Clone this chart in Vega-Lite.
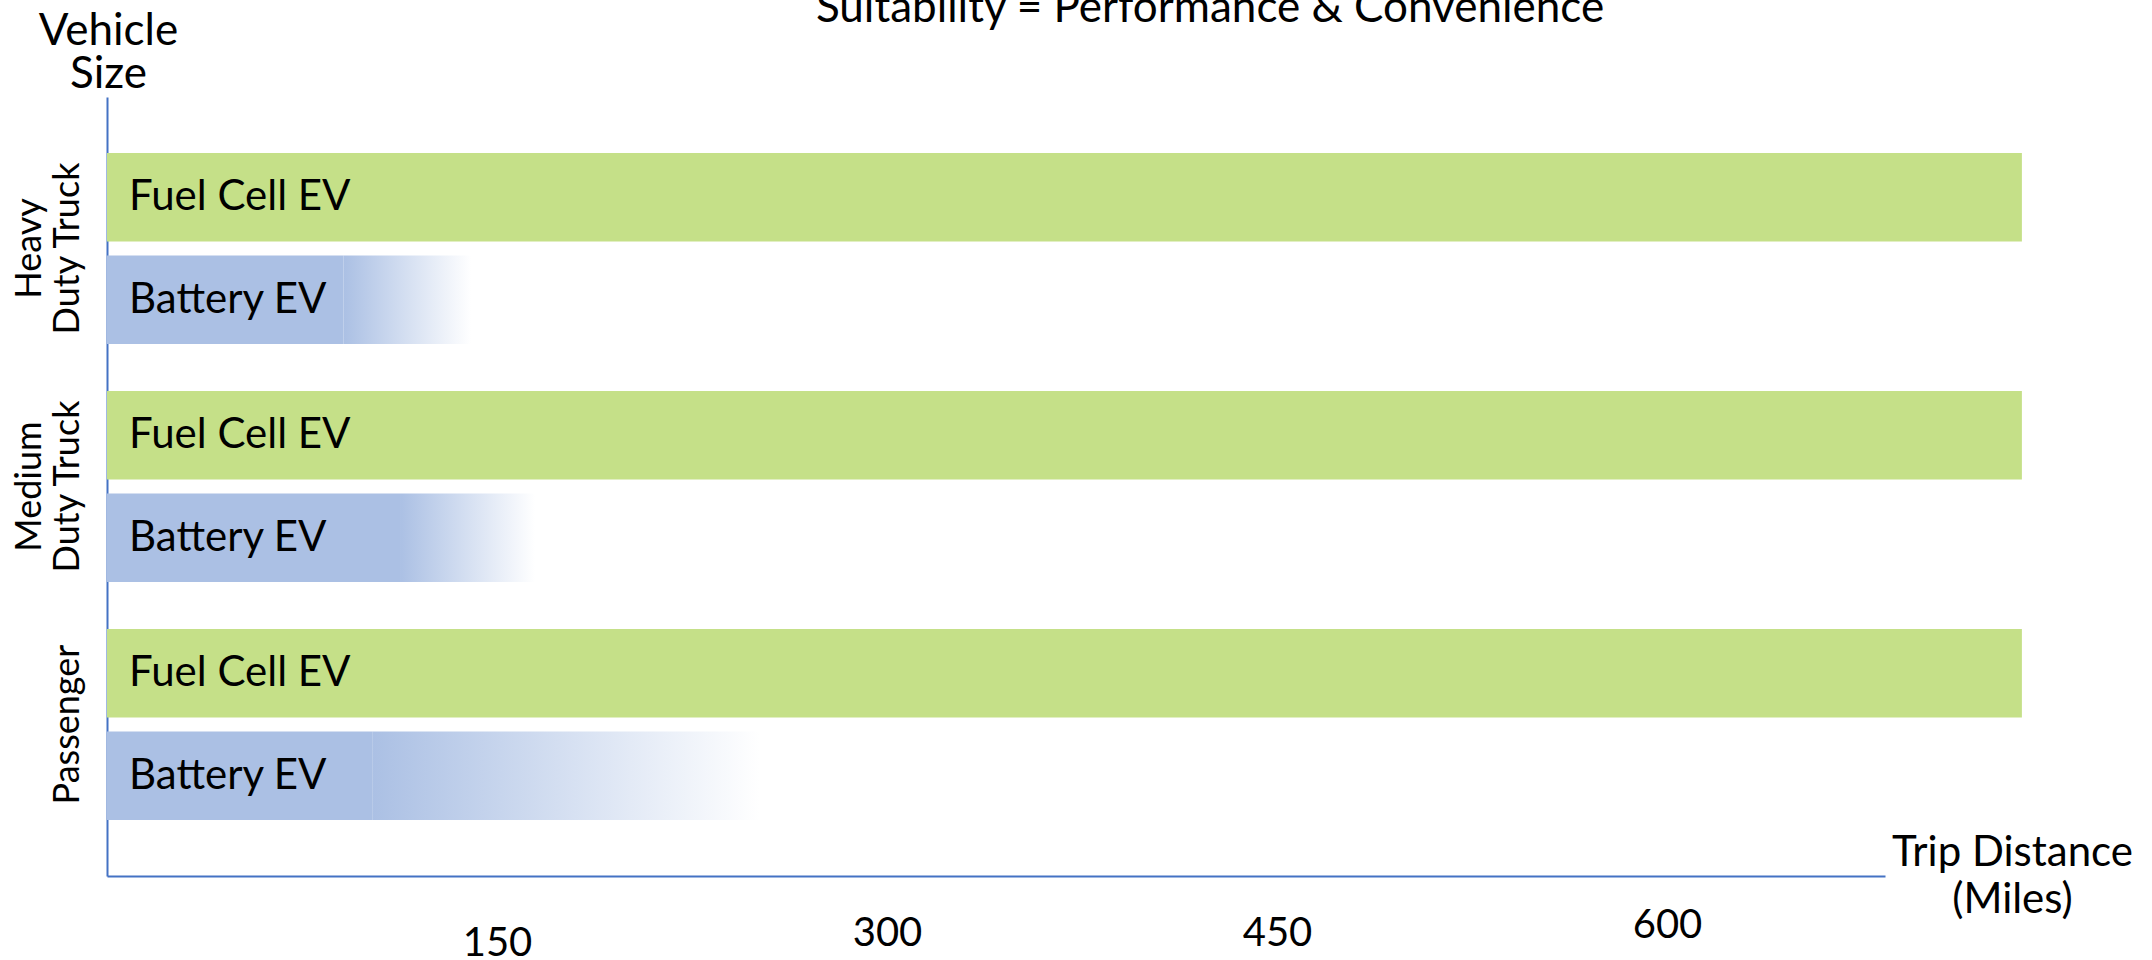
{
  "$schema": "https://vega.github.io/schema/vega-lite/v6.json",
  "autosize": "none",
  "width": 1778,
  "height": 779,
  "padding": {"left": 107, "top": 97, "right": 267, "bottom": 84},
  "background": "white",
  "config": {"view": {"stroke": null}, "font": "Lato"},
  "title": {
    "text": "Suitability = Performance & Convenience",
    "font": "Lato",
    "fontSize": 44,
    "fontWeight": "normal",
    "color": "black",
    "anchor": "middle",
    "frame": "group",
    "baseline": "alphabetic",
    "offset": 0,
    "dy": 57,
    "dx": 214
  },
  "data": {
    "values": [
      {"vehicle": "Heavy Duty Truck", "type": "Fuel Cell EV", "end": 736.5, "fade_end": 736.5},
      {"vehicle": "Heavy Duty Truck", "type": "Battery EV", "end": 91, "fade_end": 140},
      {"vehicle": "Medium Duty Truck", "type": "Fuel Cell EV", "end": 736.5, "fade_end": 736.5},
      {"vehicle": "Medium Duty Truck", "type": "Battery EV", "end": 112.7, "fade_end": 164.6},
      {"vehicle": "Passenger", "type": "Fuel Cell EV", "end": 736.5, "fade_end": 736.5},
      {"vehicle": "Passenger", "type": "Battery EV", "end": 102, "fade_end": 251}
    ]
  },
  "encoding": {
    "y": {
      "field": "vehicle",
      "type": "nominal",
      "sort": ["Heavy Duty Truck", "Medium Duty Truck", "Passenger"],
      "scale": {"paddingInner": 0.1975, "paddingOuter": 0.2353},
      "axis": {
        "title": ["Vehicle", "Size"],
        "titleFont": "Lato",
        "titleFontSize": 44,
        "titleFontWeight": "normal",
        "titleColor": "black",
        "titleAngle": 0,
        "titleAlign": "center",
        "titleBaseline": "alphabetic",
        "titleX": 1,
        "titleY": -53,
        "titleLineHeight": 43,
        "ticks": false,
        "grid": false,
        "domainColor": "#4472C4",
        "domainWidth": 2,
        "labelExpr": "datum.label == 'Passenger' ? datum.label : [split(datum.label, ' ')[0], 'Duty Truck']",
        "labelAngle": -90,
        "labelAlign": "center",
        "labelBaseline": "bottom",
        "labelPadding": {
          "condition": {"test": "datum.value == 'Passenger'", "value": 21},
          "value": 59
        },
        "labelLineHeight": 38,
        "labelFont": "Lato",
        "labelFontSize": 36,
        "labelColor": "black",
        "labelLimit": 500
      }
    },
    "yOffset": {
      "field": "type",
      "type": "nominal",
      "sort": ["Fuel Cell EV", "Battery EV"],
      "scale": {"paddingInner": 0.137, "paddingOuter": 0}
    }
  },
  "layer": [
    {
      "transform": [{"filter": "datum.type == 'Fuel Cell EV'"}],
      "mark": {"type": "bar", "color": "#C5E088", "clip": false},
      "encoding": {
        "x": {
          "field": "end",
          "type": "quantitative",
          "scale": {"domain": [0, 683.85], "nice": false, "zero": true},
          "axis": {
            "values": [150, 300, 450, 600],
            "title": ["Trip Distance", "(Miles)"],
            "titleFont": "Lato",
            "titleFontSize": 42,
            "titleFontWeight": "normal",
            "titleColor": "black",
            "titleAlign": "center",
            "titleBaseline": "alphabetic",
            "titleAngle": 0,
            "titleX": 1905,
            "titleY": -11,
            "titleLineHeight": 47,
            "ticks": false,
            "grid": false,
            "domainColor": "#4472C4",
            "domainWidth": 2,
            "labelFont": "Lato",
            "labelFontSize": 40,
            "labelColor": "black",
            "labelBaseline": "alphabetic",
            "labelFlush": false,
            "labelOverlap": false,
            "labelPadding": {
              "condition": [
                {"test": "datum.value == 150", "value": 79},
                {"test": "datum.value == 600", "value": 61}
              ],
              "value": 69
            }
          }
        }
      }
    },
    {
      "transform": [{"filter": "datum.type == 'Battery EV'"}],
      "mark": {"type": "bar", "color": "#ABC0E4", "clip": false},
      "encoding": {"x": {"field": "end", "type": "quantitative"}}
    },
    {
      "transform": [{"filter": "datum.type == 'Battery EV'"}],
      "mark": {
        "type": "bar",
        "clip": false,
        "fill": {
          "gradient": "linear",
          "x1": 0, "y1": 0, "x2": 1, "y2": 0,
          "stops": [
            {"offset": 0, "color": "#ABC0E4"},
            {"offset": 1, "color": "#FFFFFF"}
          ]
        }
      },
      "encoding": {
        "x": {"field": "end", "type": "quantitative"},
        "x2": {"field": "fade_end"}
      }
    },
    {
      "mark": {"type": "text", "align": "left", "baseline": "middle", "dx": 22, "font": "Lato", "fontSize": 42, "color": "black", "clip": false},
      "encoding": {
        "x": {"datum": 0, "type": "quantitative"},
        "text": {"field": "type"}
      }
    }
  ]
}
